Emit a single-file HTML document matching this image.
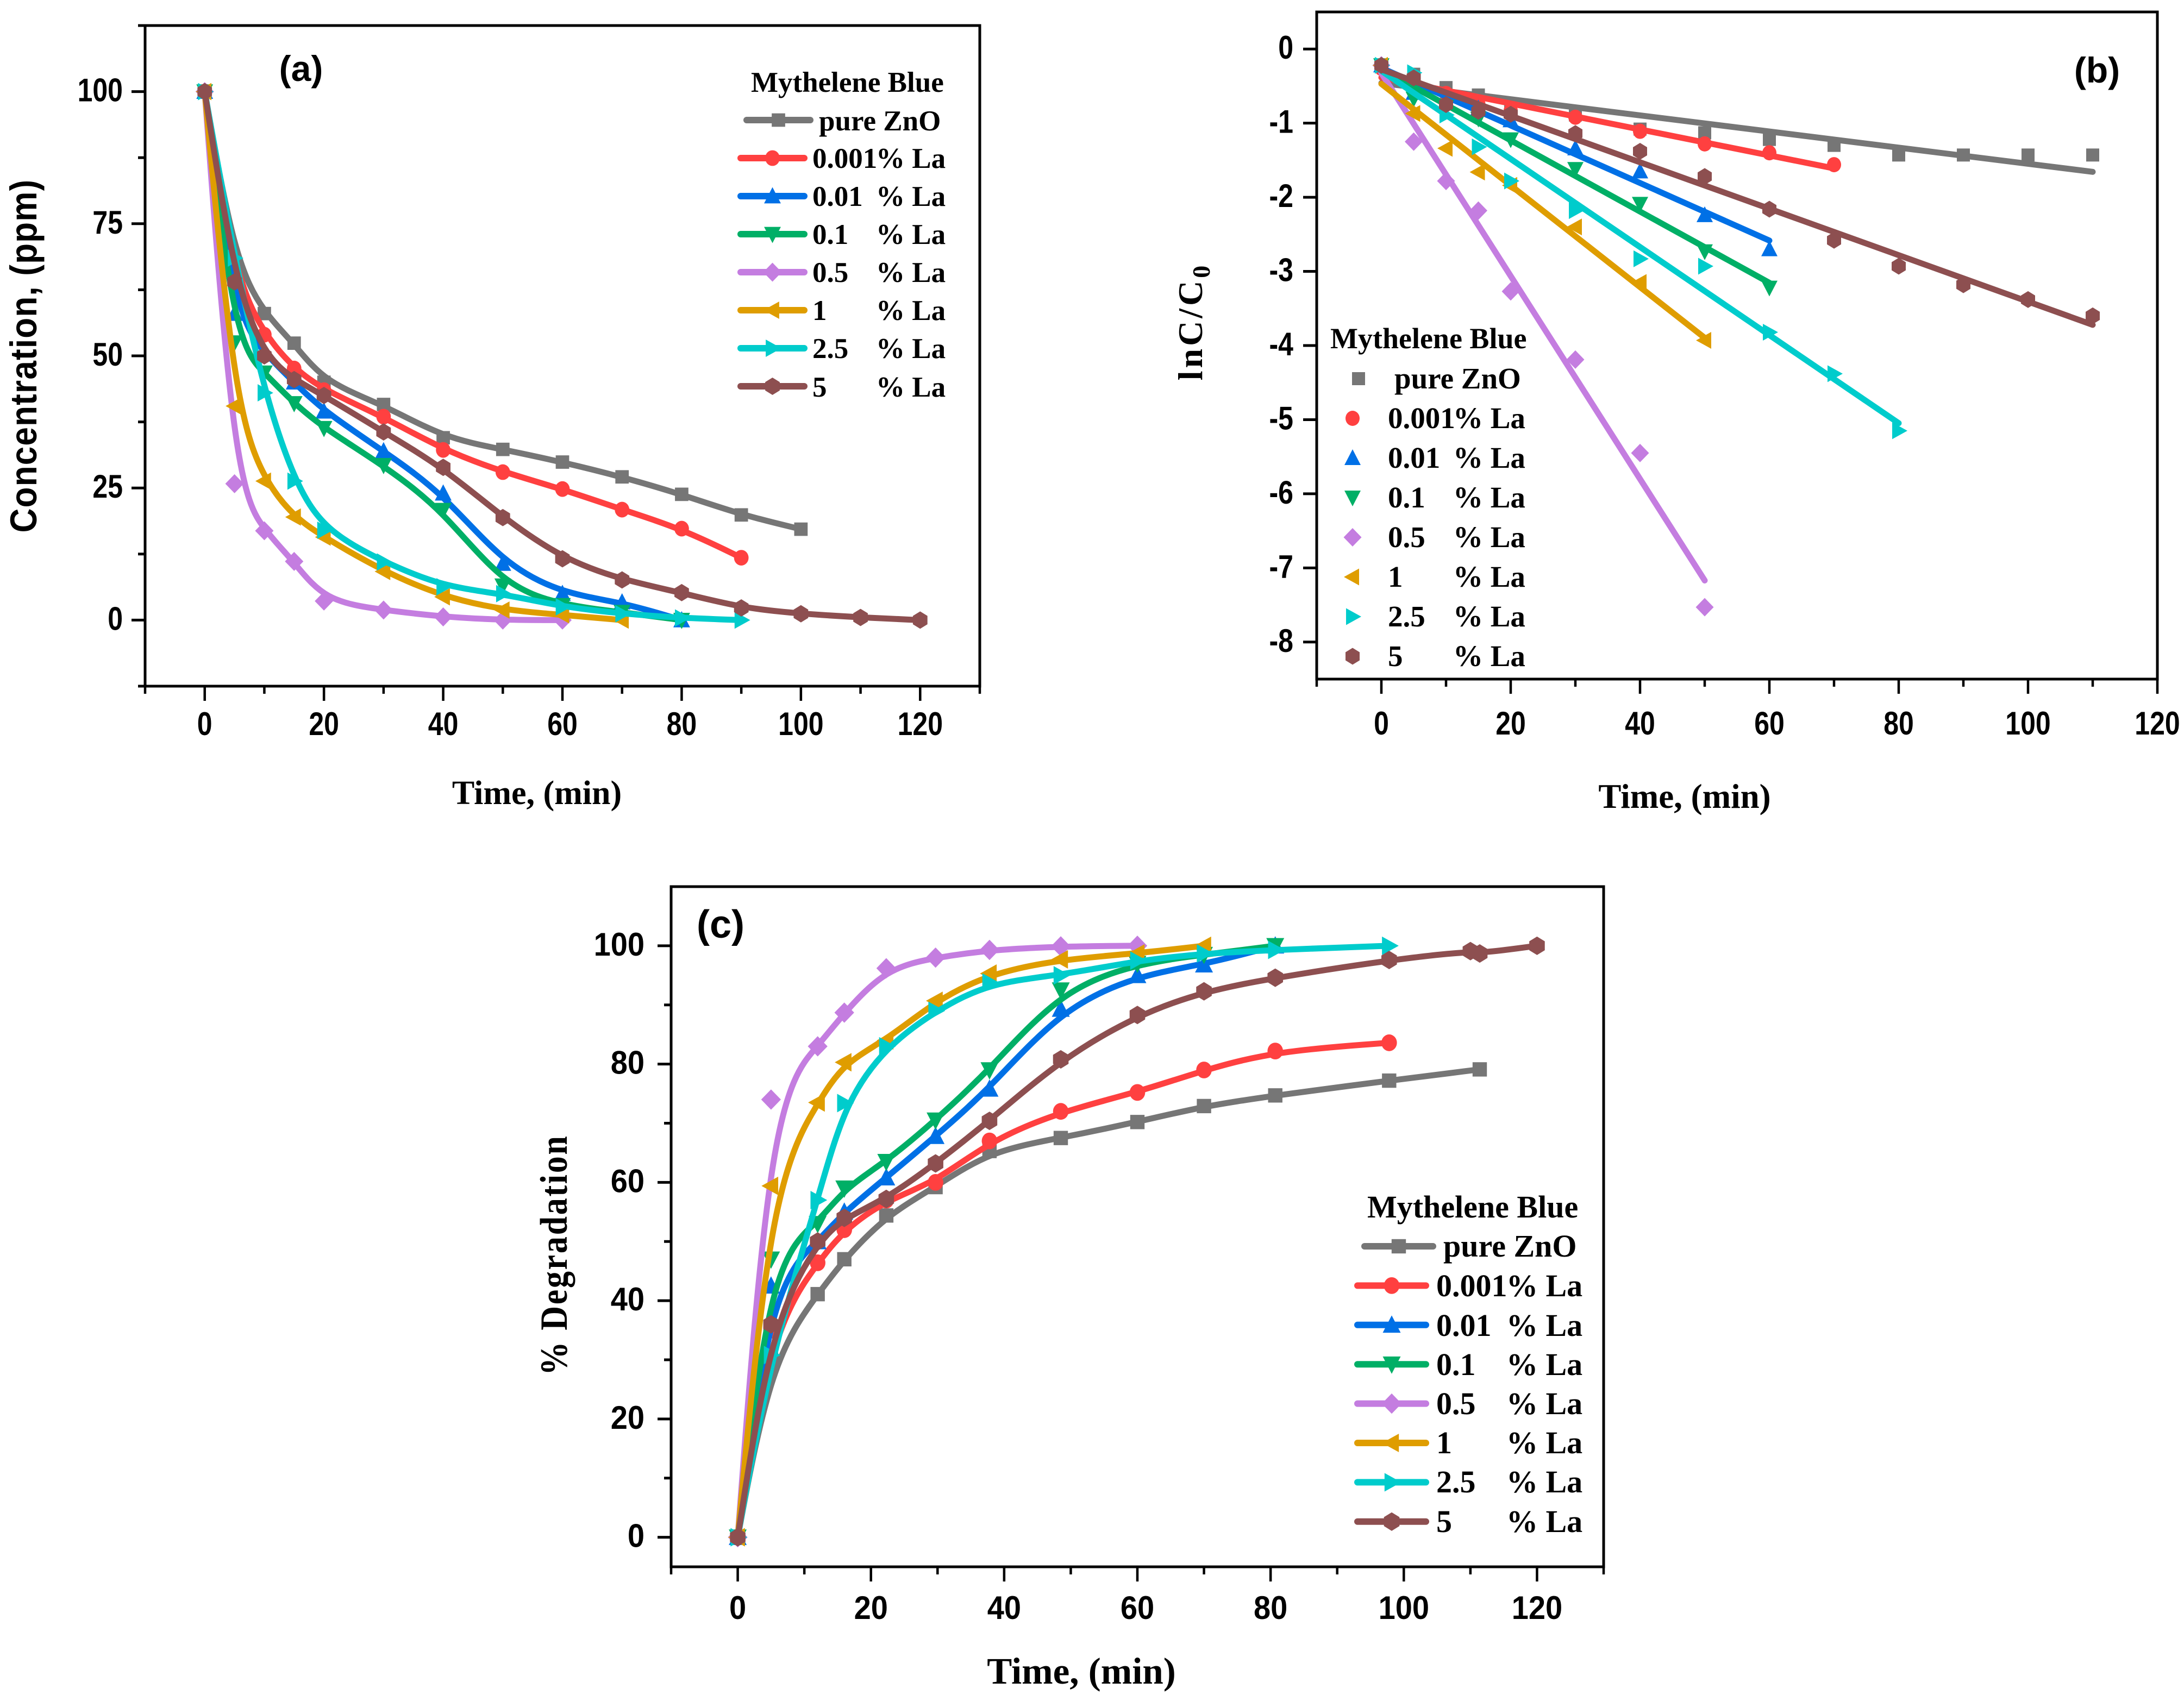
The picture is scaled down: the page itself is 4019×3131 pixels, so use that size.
<!DOCTYPE html>
<html lang="en">
<head>
<meta charset="utf-8">
<title>Methylene blue degradation charts</title>
<style>
html,body{margin:0;padding:0;background:#fff;width:4019px;height:3131px;overflow:hidden}
svg{display:block}
.tick{font-family:"Liberation Sans",sans-serif;font-weight:700;fill:#000}
.serif{font-family:"Liberation Serif",serif;font-weight:700;fill:#000}
.sans{font-family:"Liberation Sans",sans-serif;font-weight:700;fill:#000}
</style>
</head>
<body>
<svg id="figure" xmlns="http://www.w3.org/2000/svg" width="4019" height="3131" viewBox="0 0 4019 3131">
<rect width="4019" height="3131" fill="#fff"/>

<g id="panel-a"></g>
<g id="panel-b"></g>
<g id="panel-c"></g>

<!-- panel a text -->
<text class="sans" x="554" y="149" font-size="66" text-anchor="middle">(a)</text>
<text class="sans" transform="translate(67 655) rotate(-90) scale(1 1.1)" font-size="62" letter-spacing="1.2" text-anchor="middle">Concentration, (ppm)</text>
<text class="serif" x="988" y="1480" font-size="62" text-anchor="middle">Time, (min)</text>
<g font-size="53" class="serif">
<text class="serif" x="1382" y="169">Mythelene Blue</text>
<text class="serif" x="1507" y="240">pure ZnO</text>
<text class="serif" y="309"><tspan x="1495">0.001</tspan><tspan x="1612">% La</tspan></text>
<text class="serif" y="379"><tspan x="1495">0.01</tspan><tspan x="1612">% La</tspan></text>
<text class="serif" y="449"><tspan x="1495">0.1</tspan><tspan x="1612">% La</tspan></text>
<text class="serif" y="519"><tspan x="1495">0.5</tspan><tspan x="1612">% La</tspan></text>
<text class="serif" y="589"><tspan x="1495">1</tspan><tspan x="1612">% La</tspan></text>
<text class="serif" y="659"><tspan x="1495">2.5</tspan><tspan x="1612">% La</tspan></text>
<text class="serif" y="730"><tspan x="1495">5</tspan><tspan x="1612">% La</tspan></text>
</g>

<!-- panel b text -->
<text class="sans" x="3859" y="152" font-size="66" text-anchor="middle">(b)</text>
<text class="serif" transform="translate(2212 592) rotate(-90)" font-size="64" letter-spacing="5" text-anchor="middle">lnC/C<tspan font-size="46" dy="14">0</tspan></text>
<text class="serif" x="3100" y="1487" font-size="63" text-anchor="middle">Time, (min)</text>
<g>
<text class="serif" font-size="54" x="2448" y="641">Mythelene Blue</text>
<text class="serif" font-size="55" x="2566" y="715">pure ZnO</text>
<text class="serif" font-size="55" y="788"><tspan x="2554">0.001</tspan><tspan x="2674">% La</tspan></text>
<text class="serif" font-size="55" y="861"><tspan x="2554">0.01</tspan><tspan x="2674">% La</tspan></text>
<text class="serif" font-size="55" y="934"><tspan x="2554">0.1</tspan><tspan x="2674">% La</tspan></text>
<text class="serif" font-size="55" y="1007"><tspan x="2554">0.5</tspan><tspan x="2674">% La</tspan></text>
<text class="serif" font-size="55" y="1080"><tspan x="2554">1</tspan><tspan x="2674">% La</tspan></text>
<text class="serif" font-size="55" y="1153"><tspan x="2554">2.5</tspan><tspan x="2674">% La</tspan></text>
<text class="serif" font-size="55" y="1226"><tspan x="2554">5</tspan><tspan x="2674">% La</tspan></text>
</g>

<!-- panel c text -->
<text class="sans" x="1326" y="1726" font-size="72" text-anchor="middle">(c)</text>
<text class="serif" transform="translate(1043 2310) rotate(-90) scale(1 1.14)" font-size="62" letter-spacing="2.7" text-anchor="middle">% Degradation</text>
<text class="serif" x="1990" y="3099" font-size="69" text-anchor="middle">Time, (min)</text>
<g>
<text class="serif" font-size="58" x="2516" y="2241">Mythelene Blue</text>
<text class="serif" font-size="58" x="2656" y="2313">pure ZnO</text>
<text class="serif" font-size="58" y="2386"><tspan x="2643">0.001</tspan><tspan x="2772">% La</tspan></text>
<text class="serif" font-size="58" y="2459"><tspan x="2643">0.01</tspan><tspan x="2772">% La</tspan></text>
<text class="serif" font-size="58" y="2531"><tspan x="2643">0.1</tspan><tspan x="2772">% La</tspan></text>
<text class="serif" font-size="58" y="2603"><tspan x="2643">0.5</tspan><tspan x="2772">% La</tspan></text>
<text class="serif" font-size="58" y="2675"><tspan x="2643">1</tspan><tspan x="2772">% La</tspan></text>
<text class="serif" font-size="58" y="2747"><tspan x="2643">2.5</tspan><tspan x="2772">% La</tspan></text>
<text class="serif" font-size="58" y="2820"><tspan x="2643">5</tspan><tspan x="2772">% La</tspan></text>
</g>
</svg>

<script>
// ---- shared series identity ----
const seriesNames = ['pure-zno', '0.001', '0.01', '0.1', '0.5', '1', '2.5', '5'];
const seriesColors = ['#767676', '#FF4040', '#0070E6', '#00AF66', '#C47DE0', '#DF9D00', '#00CCCC', '#8D4F50'];
const seriesShapes = ['square', 'circle', 'up', 'down', 'diamond', 'left', 'right', 'hex'];

// ---- panel (a): concentration vs time ----
const aTime = [0, 5, 10, 15, 20, 30, 40, 50, 60, 70, 80, 90, 100, 110, 120];
const aPure = [100, 68, 58, 52.4, 45, 40.8, 34.5, 32.3, 29.9, 27.1, 23.8, 19.9, 17.2];
const a0001 = [100, 65, 54, 47.6, 43.5, 38.5, 32.2, 28, 24.8, 20.9, 17.3, 11.8];
const a001 = [100, 58, 50.5, 45, 39.5, 32, 24, 10.7, 5, 3.4, 0];
const a01 = [100, 52.5, 46.8, 41, 36.3, 29.3, 20.8, 6.5, 2.8, 1.5, 0];
const a05 = [100, 25.8, 16.9, 11.1, 3.6, 1.9, 0.6, 0, 0];
const a1 = [100, 40.5, 26.3, 19.5, 15.7, 9.2, 4.4, 1.9, 1, 0];
const a25 = [100, 68.5, 43, 26.3, 17, 11, 6.3, 5, 2.5, 1.2, 0.4, 0];
const a5 = [100, 64, 50, 45.5, 42.5, 35.6, 28.9, 19.4, 11.6, 7.6, 5.2, 2.3, 1.2, 0.5, 0];
const aXMajor = [0, 20, 40, 60, 80, 100, 120];
const aXMinor = [-10, 10, 30, 50, 70, 90, 110, 130];
const aYMajor = [0, 25, 50, 75, 100];
const aYMinor = [-12.5, 12.5, 37.5, 62.5, 87.5, 112.5];

// ---- panel (b): ln(C/C0) vs time; fit lines are least squares of these points ----
const bTime = [0, 5, 10, 15, 20, 30, 40, 50, 60, 70, 80, 90, 100, 110];
const bPure = [-0.22, -0.34, -0.52, -0.62, -0.8, -0.89, -1.08, -1.13, -1.22, -1.3, -1.43, -1.43, -1.43, -1.43];
const b0001 = [-0.26, -0.4, -0.6, -0.74, -0.83, -0.92, -1.11, -1.28, -1.4, -1.56];
const b001 = [-0.22, -0.59, -0.72, -0.8, -0.96, -1.34, -1.65, -2.24, -2.7];
const b01 = [-0.22, -0.67, -0.78, -0.94, -1.22, -1.62, -2.09, -2.73, -3.22];
const b05 = [-0.22, -1.25, -1.78, -2.18, -3.27, -4.19, -5.45, -7.53];
const b1 = [-0.22, -0.87, -1.34, -1.66, -1.84, -2.4, -3.15, -3.93];
const b25 = [-0.22, -0.32, -0.89, -1.32, -1.78, -2.18, -2.83, -2.93, -3.82, -4.38, -5.15];
const b5 = [-0.22, -0.39, -0.75, -0.84, -0.88, -1.14, -1.38, -1.72, -2.16, -2.58, -2.93, -3.18, -3.38, -3.6];
const bXMajor = [0, 20, 40, 60, 80, 100, 120];
const bXMinor = [-10, 10, 30, 50, 70, 90, 110];
const bYMajor = [0, -1, -2, -3, -4, -5, -6, -7, -8];
const bYMinor = [];

// ---- panel (c): % degradation vs time ----
const cTime = [0, 5, 12, 16, 22.3, 29.7, 37.8, 48.5, 60, 70, 80.7, 97.8, 111.4];
const cPure = [0, 30, 41.1, 47, 54.4, 59.2, 65.3, 67.5, 70.2, 72.9, 74.7, 77.2, 79.1];
const c0001 = [0, 35, 46.4, 52, 57, 60, 67, 72, 75.2, 79, 82.2, 83.6];
const c001 = [0, 42.5, 50, 55, 60.8, 67.8, 75.8, 89.3, 95, 96.8, 100];
const c01 = [0, 47, 53, 59, 63.5, 70.5, 79, 92.5, 97, 98.5, 100];
const c05 = [0, 74, 83, 88.7, 96.2, 98, 99.3, 99.9, 100];
const c1 = [0, 59.4, 73.5, 80.3, 84, 90.7, 95.3, 97.7, 98.7, 100];
const c25 = [0, 30.8, 57, 73.4, 83, 89, 93.8, 95, 97.5, 98.7, 99.3, 100];
const c5 = [0, 36, 50, 54, 57.2, 63.2, 70.4, 80.8, 88.3, 92.3, 94.6, 97.6, 99.1, 98.7, 100];
const cTime5 = [0, 5, 12, 16, 22.3, 29.7, 37.8, 48.5, 60, 70, 80.7, 97.8, 110, 111.4, 120];
const cXMajor = [0, 20, 40, 60, 80, 100, 120];
const cXMinor = [-10, 10, 30, 50, 70, 90, 110, 130];
const cYMajor = [0, 20, 40, 60, 80, 100];
const cYMinor = [10, 30, 50, 70, 90];

const SVGNS = 'http://www.w3.org/2000/svg';

function mk(parent, tag, attrs) {
  const el = document.createElementNS(SVGNS, tag);
  for (const k in attrs) el.setAttribute(k, attrs[k]);
  parent.appendChild(el);
  return el;
}

// Clamped uniform cubic B-spline through control points
function bsplinePath(pts) {
  if (pts.length < 3) return 'M' + pts.map(p => p.join(',')).join('L');
  let d = 'M' + pts[0][0] + ',' + pts[0][1];
  let x0 = pts[0][0], y0 = pts[0][1], x1 = pts[1][0], y1 = pts[1][1];
  d += 'L' + (5 * x0 + x1) / 6 + ',' + (5 * y0 + y1) / 6;
  const seg = (x, y) => {
    d += 'C' + (2 * x0 + x1) / 3 + ',' + (2 * y0 + y1) / 3 + ' ' +
         (x0 + 2 * x1) / 3 + ',' + (y0 + 2 * y1) / 3 + ' ' +
         (x0 + 4 * x1 + x) / 6 + ',' + (y0 + 4 * y1 + y) / 6;
    x0 = x1; y0 = y1; x1 = x; y1 = y;
  };
  for (let i = 2; i < pts.length; i++) seg(pts[i][0], pts[i][1]);
  seg(x1, y1);
  d += 'L' + x1 + ',' + y1;
  return d;
}

function leastSquares(xs, ys) {
  const n = ys.length;
  let sx = 0, sy = 0, sxx = 0, sxy = 0;
  for (let i = 0; i < n; i++) {
    sx += xs[i]; sy += ys[i]; sxx += xs[i] * xs[i]; sxy += xs[i] * ys[i];
  }
  const m = (n * sxy - sx * sy) / (n * sxx - sx * sx);
  return { m: m, b: (sy - m * sx) / n };
}

function drawMarker(g, shape, cx, cy, color, k) {
  let el;
  if (shape === 'square') {
    el = mk(g, 'rect', { x: cx - 12 * k, y: cy - 12 * k, width: 24 * k, height: 24 * k, fill: color });
  } else if (shape === 'circle') {
    el = mk(g, 'ellipse', { cx: cx, cy: cy, rx: 13 * k, ry: 14 * k, fill: color });
  } else {
    let pts;
    if (shape === 'up') pts = [[0, -16], [15, 13], [-15, 13]];
    if (shape === 'down') pts = [[0, 16], [15, -13], [-15, -13]];
    if (shape === 'left') pts = [[-16, 0], [12, -15.5], [12, 15.5]];
    if (shape === 'right') pts = [[16, 0], [-12, -15.5], [-12, 15.5]];
    if (shape === 'diamond') pts = [[0, -17], [16.5, 0], [0, 17], [-16.5, 0]];
    if (shape === 'hex') pts = [[0, -15.5], [13, -7.5], [13, 7.5], [0, 15.5], [-13, 7.5], [-13, -7.5]];
    el = mk(g, 'polygon', { points: pts.map(p => (cx + p[0] * k) + ',' + (cy + p[1] * k)).join(' '), fill: color });
  }
  return el;
}

function drawAxes(g, cfg, sx, sy) {
  const frame = mk(g, 'rect', {
    x: cfg.left, y: cfg.top, width: cfg.right - cfg.left, height: cfg.bottom - cfg.top,
    fill: 'none', stroke: '#000', 'stroke-width': 5
  });
  
  
  const drawX = (v, len) => {
    const t = mk(g, 'line', { x1: sx(v), x2: sx(v), y1: cfg.bottom, y2: cfg.bottom + len, stroke: '#000', 'stroke-width': 4.5 });
    
    
  };
  const drawY = (v, len) => {
    const t = mk(g, 'line', { x1: cfg.left, x2: cfg.left - len, y1: sy(v), y2: sy(v), stroke: '#000', 'stroke-width': 5 });
    
    
  };
  cfg.xMinor.forEach(v => drawX(v, 14));
  cfg.yMinor.forEach(v => drawY(v, 13));
  cfg.xMajor.forEach(v => {
    drawX(v, 27);
    const t = mk(g, 'text', {
      transform: 'translate(' + sx(v) + ' ' + cfg.xLabelY + ') scale(1 ' + cfg.tickStretch + ')',
      'text-anchor': 'middle', 'font-size': cfg.tickFont, class: 'tick'
    });
    t.textContent = String(v);
    
    
  });
  cfg.yMajor.forEach(v => {
    drawY(v, 25);
    const t = mk(g, 'text', {
      transform: 'translate(' + cfg.yLabelX + ' ' + (sy(v) + 18) + ') scale(1 ' + cfg.tickStretch + ')',
      'text-anchor': 'end', 'font-size': cfg.tickFont, class: 'tick'
    });
    t.textContent = String(v);
    
    
  });
}

function drawLegendMarks(g, cfg) {
  seriesNames.forEach((name, i) => {
    const y = cfg.legendTop + i * cfg.legendStep;
    const shift = i === 0 ? cfg.legendPureShift : 0;
    const color = seriesColors[i];
    if (cfg.legendLine) {
      const ln = mk(g, 'line', {
        x1: cfg.legendX1 + shift, x2: cfg.legendX2 + shift, y1: y, y2: y,
        stroke: color, 'stroke-width': 12, 'stroke-linecap': 'round'
      });
      
      
    }
    const m = drawMarker(g, seriesShapes[i], (cfg.legendX1 + cfg.legendX2) / 2 + shift, y, color, cfg.markerScale);
    
    
  });
}

function drawPanel(id, cfg, xsets, ysets) {
  const g = document.getElementById(id);
  const kx = (cfg.right - cfg.left) / (cfg.xMax - cfg.xMin);
  const ky = (cfg.bottom - cfg.top) / (cfg.yMax - cfg.yMin);
  const sx = v => cfg.left + (v - cfg.xMin) * kx;
  const sy = v => cfg.top + (cfg.yMax - v) * ky;
  ysets.forEach((ys, i) => {
    const xs = xsets[i];
    const sg = mk(g, 'g', {});
    
    
    const color = seriesColors[i];
    let d;
    if (cfg.fit) {
      const f = leastSquares(xs, ys);
      const last = xs[ys.length - 1];
      d = 'M' + sx(xs[0]) + ',' + sy(f.m * xs[0] + f.b) + 'L' + sx(last) + ',' + sy(f.m * last + f.b);
    } else {
      d = bsplinePath(ys.map((v, k) => [sx(xs[k]), sy(v)]));
    }
    const path = mk(sg, 'path', { d: d, fill: 'none', stroke: color, 'stroke-width': 11, 'stroke-linejoin': 'round', 'stroke-linecap': 'round' });
    
    
    ys.forEach((v, k) => {
      const m = drawMarker(sg, seriesShapes[i], sx(xs[k]), sy(v), color, cfg.markerScale);
      
      
    });
  });
  drawAxes(g, cfg, sx, sy);
  drawLegendMarks(g, cfg);
}

drawPanel('panel-a', {
  left: 267, right: 1803, top: 47, bottom: 1263,
  xMin: -10, xMax: 130, yMin: -12.5, yMax: 112.5,
  xMajor: aXMajor, xMinor: aXMinor, yMajor: aYMajor, yMinor: aYMinor,
  tickFont: 50, tickStretch: 1.2, xLabelY: 1353, yLabelX: 226, markerScale: 1.03,
  legendLine: true, legendTop: 221, legendStep: 70,
  legendX1: 1363, legendX2: 1480, legendPureShift: 11
}, [aTime, aTime, aTime, aTime, aTime, aTime, aTime, aTime],
   [aPure, a0001, a001, a01, a05, a1, a25, a5]);

drawPanel('panel-b', {
  left: 2423, right: 3970, top: 22, bottom: 1250,
  xMin: -10, xMax: 120, yMin: -8.5, yMax: 0.5,
  xMajor: bXMajor, xMinor: bXMinor, yMajor: bYMajor, yMinor: bYMinor,
  tickFont: 50, tickStretch: 1.2, xLabelY: 1352, yLabelX: 2380, fit: true, markerScale: 1,
  legendLine: false, legendTop: 697, legendStep: 73,
  legendX1: 2489, legendX2: 2489, legendPureShift: 11
}, [bTime, bTime, bTime, bTime, bTime, bTime, bTime, bTime],
   [bPure, b0001, b001, b01, b05, b1, b25, b5]);

drawPanel('panel-c', {
  left: 1235, right: 2951, top: 1632, bottom: 2884,
  xMin: -10, xMax: 130, yMin: -5, yMax: 110,
  xMajor: cXMajor, xMinor: cXMinor, yMajor: cYMajor, yMinor: cYMinor,
  tickFont: 56, tickStretch: 1.08, xLabelY: 2980, yLabelX: 1186, markerScale: 1.1,
  legendLine: true, legendTop: 2294, legendStep: 72.4,
  legendX1: 2498, legendX2: 2624, legendPureShift: 13
}, [cTime, cTime, cTime, cTime, cTime, cTime, cTime, cTime5],
   [cPure, c0001, c001, c01, c05, c1, c25, c5]);
</script>
</body>
</html>
